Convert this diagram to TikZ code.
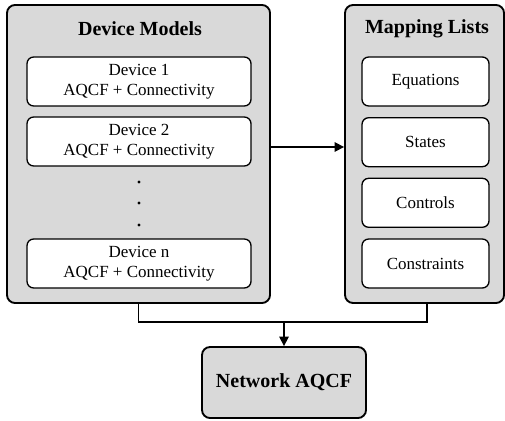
\documentclass[tikz,border=0pt]{standalone}
\usepackage{fontspec}
\setmainfont{Liberation Serif}
\usetikzlibrary{arrows.meta,calc}
\definecolor{panelgray}{HTML}{D9D9D9}
\tikzset{
  panel/.style={draw=black, line width=1.4pt, fill=panelgray, rounded corners=6pt, inner sep=0pt},
  itembox/.style={draw=black, line width=1pt, fill=white, rounded corners=5pt, inner sep=0pt, align=center,
    font=\fontsize{12.75}{15}\selectfont},
  paneltitle/.style={font=\fontsize{15}{18}\selectfont\bfseries, inner sep=0pt},
  link/.style={line width=1.2pt, -{Triangle[length=7pt,width=7pt]}},
  wire/.style={line width=1.2pt}
}
\begin{document}
\begin{tikzpicture}[x=0.75pt,y=-0.75pt]
\useasboundingbox (0,0) rectangle (505,420);
% left panel: device models
\node[panel, minimum width=197.25pt, minimum height=223.5pt] (dm) at (138.5,154) {};
\node[paneltitle] (dmtitle) at (140,29) {Device Models};
\node[itembox, minimum width=168pt, minimum height=36.75pt] (d1) at (139,81.5) {Device 1\\AQCF + Connectivity};
\node[itembox, minimum width=168pt, minimum height=36.75pt] (d2) at (139,141.5) {Device 2\\AQCF + Connectivity};
\node[itembox, minimum width=168pt, minimum height=36.75pt] (dn) at (139,263.5) {Device n\\AQCF + Connectivity};
\foreach \yy/\nm in {182/dotA,203/dotB,225/dotC}
  \fill (139,\yy) circle (1.3pt) coordinate (\nm);
% right panel: mapping lists
\node[panel, minimum width=119.25pt, minimum height=223.5pt] (ml) at (424.5,154) {};
\node[paneltitle] (mltitle) at (427,29) {Mapping Lists};
\node[itembox, minimum width=95.25pt, minimum height=36.75pt] (eq) at (425.5,81.5) {Equations};
\node[itembox, minimum width=95.25pt, minimum height=36.75pt] (st) at (425.5,142.2) {States};
\node[itembox, minimum width=95.25pt, minimum height=36.75pt] (ct) at (425.5,202.8) {Controls};
\node[itembox, minimum width=95.25pt, minimum height=36.75pt] (cs) at (425.5,263.5) {Constraints};
% result
\node[panel, minimum width=123pt, minimum height=53.25pt, font=\fontsize{15}{18}\selectfont\bfseries] (net) at (284,382.5) {Network AQCF};
% connectors
\draw[link] ([yshift=5.25pt]dm.east) -- ([yshift=5.25pt]ml.west);
\coordinate (junc) at (net.north |- 0,322);
\draw[wire] (dm.south) |- (junc) -| ([xshift=1.9pt]ml.south);
\draw[link] (junc) -- (net.north);
\end{tikzpicture}
\end{document}
